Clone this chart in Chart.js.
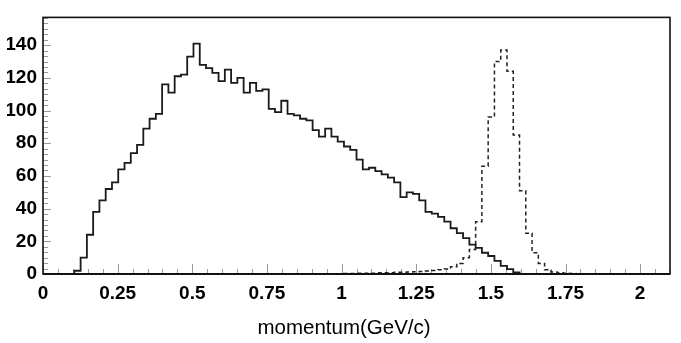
<!DOCTYPE html>
<html><head><meta charset="utf-8">
<script src="https://cdn.jsdelivr.net/npm/chart.js@4/dist/chart.umd.min.js"></script>
<style>html,body{margin:0;padding:0;background:#fff;}#wrap{width:681px;height:343px;}</style>
</head><body><div id="wrap"><canvas id="c" width="681" height="343"></canvas></div>
<script>
// Histogram binning: 100 bins from 0 to 2.1 GeV/c
const X_MIN = 0, X_MAX = 2.1, N_BINS = 100;
const Y_MAX = 157;

// Solid histogram (counts per bin)
const solidCounts = [
  0, 0, 0, 0, 0, 2, 10, 24, 38, 45,
  52, 56, 64, 68, 74, 79, 89, 95, 98, 116,
  111, 121, 122, 133, 141, 128, 126, 123, 118, 125,
  117, 120, 111, 117, 112, 113, 101, 99, 106, 98,
  97, 95, 94, 88, 84, 89, 84, 81, 78, 76,
  70, 64, 65, 63, 61, 59, 56, 47, 50, 49,
  45, 38, 37, 35, 32, 28, 25, 22, 18, 16,
  13, 11, 8, 5, 3, 1, 0, 0, 0, 0,
  0, 0, 0, 0, 0, 0, 0, 0, 0, 0,
  0, 0, 0, 0, 0, 0, 0, 0, 0, 0
];

// Dashed histogram (counts per bin)
const dashedCounts = [
  0, 0, 0, 0, 0, 0, 0, 0, 0, 0,
  0, 0, 0, 0, 0, 0, 0, 0, 0, 0,
  0, 0, 0, 0, 0, 0, 0, 0, 0, 0,
  0, 0, 0, 0, 0, 0, 0, 0, 0, 0,
  0, 0, 0, 0, 0, 0, 0, 0, 0.3, 0.3,
  0.4, 0.4, 0.5, 0.7, 0.8, 0.8, 1, 1, 1.2, 1.4,
  1.6, 1.8, 2.2, 2.6, 3, 4.5, 6.5, 10, 15, 32,
  66, 96, 130, 137, 124, 85, 51, 25, 13, 6.5,
  2.6, 1.2, 0.7, 0.4, 0.3, 0, 0, 0, 0, 0,
  0, 0, 0, 0, 0, 0, 0, 0, 0, 0
];

const xTickValues = [0, 0.25, 0.5, 0.75, 1, 1.25, 1.5, 1.75, 2];
const xTickLabels = ['0', '0.25', '0.5', '0.75', '1', '1.25', '1.5', '1.75', '2'];
const yTickValues = [0, 20, 40, 60, 80, 100, 120, 140];
const yTickLabels = ['0', '20', '40', '60', '80', '100', '120', '140'];
const xTitle = 'momentum(GeV/c)';

function histPoints(counts) {
  const w = (X_MAX - X_MIN) / N_BINS;
  const pts = counts.map((v, i) => ({ x: X_MIN + i * w, y: v }));
  pts.push({ x: X_MAX, y: counts[counts.length - 1] });
  return pts;
}

const FONT = '"Liberation Sans", Arial, Helvetica, sans-serif';

const framePlugin = {
  id: 'frame',
  beforeDatasetsDraw(chart) {
    const { ctx, chartArea: a, scales: { x, y } } = chart;
    ctx.save();
    ctx.strokeStyle = '#9a9a9a';
    ctx.lineWidth = 1;
    ctx.beginPath();
    for (let k = 0; k <= 42; k++) {
      const v = k * 0.05;
      if (v > X_MAX + 1e-9) break;
      const px = Math.round(x.getPixelForValue(v)) + 0.5;
      const len = (k % 5 === 0) ? 10 : 5;
      ctx.moveTo(px, a.bottom);
      ctx.lineTo(px, a.bottom - len);
    }
    for (let k = 0; k <= 60; k++) {
      const v = k * 20 / 6;
      if (v > Y_MAX) break;
      const py = Math.round(y.getPixelForValue(v)) + 0.5;
      const len = (k % 6 === 0) ? 8 : 5;
      ctx.moveTo(a.left, py);
      ctx.lineTo(a.left + len, py);
    }
    ctx.stroke();
    ctx.restore();
  },
  afterDatasetsDraw(chart) {
    const { ctx, chartArea: a } = chart;
    ctx.save();
    ctx.strokeStyle = '#111';
    ctx.lineWidth = 1.6;
    ctx.strokeRect(a.left, a.top, a.right - a.left, a.bottom - a.top);
    ctx.lineWidth = 2.2;
    ctx.beginPath();
    ctx.moveTo(a.left, a.bottom);
    ctx.lineTo(a.right, a.bottom);
    ctx.stroke();
    ctx.restore();
  }
};

new Chart(document.getElementById('c'), {
  type: 'line',
  data: {
    datasets: [
      {
        label: 'solid',
        data: histPoints(solidCounts),
        stepped: true,
        borderColor: '#1a1a1a',
        borderWidth: 1.8,
        pointRadius: 0,
        fill: false,
        tension: 0
      },
      {
        label: 'dashed',
        data: histPoints(dashedCounts),
        stepped: true,
        borderColor: '#222',
        borderWidth: 1.5,
        borderDash: [4, 3],
        pointRadius: 0,
        fill: false,
        tension: 0
      }
    ]
  },
  options: {
    responsive: false,
    animation: false,
    devicePixelRatio: 1,
    layout: { padding: { left: 7, right: 0, top: 9, bottom: 0 } },
    plugins: {
      legend: { display: false },
      tooltip: { enabled: false },
      title: {
        display: true,
        position: 'bottom',
        text: xTitle,
        color: '#000',
        font: { family: FONT, size: 20.5, weight: 'normal', lineHeight: 1.2 },
        padding: { top: 4, bottom: 2 }
      }
    },
    scales: {
      x: {
        type: 'linear',
        min: X_MIN,
        max: X_MAX,
        grid: { display: false, drawTicks: false },
        border: { display: false },
        afterBuildTicks: (s) => { s.ticks = xTickValues.map(v => ({ value: v })); },
        afterFit: (s) => { s.height = 38.4; },
        ticks: {
          includeBounds: false,
          autoSkip: false,
          maxRotation: 0,
          padding: 8,
          color: '#000',
          font: { family: FONT, size: 19, weight: 'bold' },
          callback: (v, i) => xTickLabels[i]
        }
      },
      y: {
        type: 'linear',
        min: 0,
        max: Y_MAX,
        grid: { display: false, drawTicks: false },
        border: { display: false },
        afterBuildTicks: (s) => { s.ticks = yTickValues.map(v => ({ value: v })); },
        afterFit: (s) => { s.width = 36; },
        ticks: {
          includeBounds: false,
          autoSkip: false,
          padding: 6,
          color: '#000',
          font: { family: FONT, size: 19, weight: 'bold' },
          callback: (v, i) => yTickLabels[i]
        }
      },
      yR: {
        type: 'linear',
        position: 'right',
        display: true,
        grid: { display: false, drawTicks: false },
        border: { display: false },
        ticks: { display: false },
        afterFit: (s) => { s.width = 11; }
      }
    }
  },
  plugins: [framePlugin]
});
</script>
</body></html>
